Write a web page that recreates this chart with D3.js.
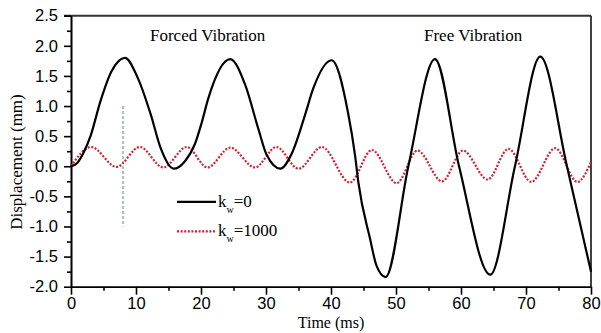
<!DOCTYPE html>
<meta charset="utf-8">
<style>
body { margin: 0; background: #fff; }
svg { font-family: "Liberation Serif", "Times New Roman", serif; }
.axis path, .axis line { stroke: #000; stroke-width: 1.6; }
.axis text { font-size: 16.5px; fill: #000; }
.label { font-size: 16.5px; fill: #000; }
.note { font-size: 17px; fill: #000; }
</style>
<svg width="601" height="333"></svg>
<script src="https://cdn.jsdelivr.net/npm/d3@7"></script>
<script>

// k_w = 0
var tBlack = [0, 1, 2, 3, 4.5, 6.2, 8.3, 10.3, 12.3, 13.8, 15.8, 17.5, 19.1, 20.1, 21.1, 24.5, 26.8, 28.8, 30.1, 32.2,
              34, 36, 37.3, 40.1, 42.6, 43.7, 44.2, 46, 47, 48.4, 51.9, 56.0, 59.7, 64.5, 68.3, 72.2, 76.3, 80];
var vBlack = [0, 0.06, 0.24, 0.5, 1.07, 1.57, 1.80, 1.46, 0.85, 0.30, -0.04, 0.08, 0.38, 0.72, 1.12, 1.78, 1.35, 0.63, 0.19, -0.04,
              0.22, 0.85, 1.3, 1.76, 0.9, 0.18, -0.26, -1.2, -1.65, -1.84, 0, 1.78, 0, -1.80, 0, 1.82, 0, -1.75];

// k_w = 1000
var tRed = [0, 3.1, 7.0, 10.6, 14.2, 17.8, 21.0, 24.5, 28.3, 31.6, 35.0, 38.6, 42.9, 46.3, 50.1, 53.3,
            57.1, 60.3, 64.1, 67.3, 70.8, 74.5, 77.9, 80];
var vRed = [0, 0.32, -0.01, 0.32, -0.02, 0.32, -0.02, 0.31, -0.02, 0.32, -0.04, 0.32, -0.27, 0.27, -0.28, 0.26,
            -0.25, 0.26, -0.22, 0.29, -0.26, 0.30, -0.26, 0.07];

var xTicks = [0, 10, 20, 30, 40, 50, 60, 70, 80];
var xMinor = [5, 15, 25, 35, 45, 55, 65, 75];
var yTicks = [-2.0, -1.5, -1.0, -0.5, 0.0, 0.5, 1.0, 1.5, 2.0, 2.5];
var yMinor = [-1.75, -1.25, -0.75, -0.25, 0.25, 0.75, 1.25, 1.75, 2.25];
var marker = [8, 1.0, -1.0]; // dashed guide at t = 8 ms

var svg = d3.select("svg");

var x = d3.scaleLinear().domain([0, 80]).range([71, 591]);
var y = d3.scaleLinear().domain([-2, 2.5]).range([286.7, 15.7]);

// box
svg.append("line")
    .attr("x1", x(0) - 7).attr("x2", x(80))
    .attr("y1", y(2.5)).attr("y2", y(2.5))
    .attr("stroke", "#333").attr("stroke-width", 2);
svg.append("line")
    .attr("x1", x(80)).attr("x2", x(80))
    .attr("y1", y(2.5)).attr("y2", y(-2))
    .attr("stroke", "#111").attr("stroke-width", 1.6);

var fmt = function(d) { return d.toFixed(1); };

svg.append("g")
    .attr("class", "axis")
    .attr("transform", "translate(" + x(0) + ",0)")
    .call(d3.axisLeft(y).tickValues(yTicks).tickFormat(fmt).tickSize(7).tickSizeOuter(0).tickPadding(6));
svg.append("g")
    .attr("class", "axis")
    .attr("transform", "translate(" + x(0) + ",0)")
    .call(d3.axisLeft(y).tickValues(yMinor).tickFormat("").tickSize(4).tickSizeOuter(0));

svg.append("g")
    .attr("class", "axis")
    .attr("transform", "translate(0," + y(-2) + ")")
    .call(d3.axisBottom(x).tickValues(xTicks).tickSize(8).tickSizeOuter(0).tickPadding(3));
svg.append("g")
    .attr("class", "axis")
    .attr("transform", "translate(0," + y(-2) + ")")
    .call(d3.axisBottom(x).tickValues(xMinor).tickFormat("").tickSize(4).tickSizeOuter(0));

// axis titles
svg.append("text")
    .attr("class", "label")
    .style("font-size", "16px")
    .attr("x", x(40)).attr("y", 328)
    .attr("text-anchor", "middle")
    .text("Time (ms)");
svg.append("text")
    .attr("class", "label")
    .style("font-size", "17px")
    .attr("transform", "translate(22,162) rotate(-90)")
    .attr("text-anchor", "middle")
    .text("Displacement (mm)");

// guide line
svg.append("line")
    .attr("x1", x(marker[0])).attr("x2", x(marker[0]))
    .attr("y1", y(marker[1])).attr("y2", y(marker[2]))
    .attr("stroke", "#7a9f86").attr("stroke-width", 1.2)
    .attr("stroke-dasharray", "3,2");

var line = d3.line()
    .x(function(d) { return x(d[0]); })
    .y(function(d) { return y(d[1]); })
    .curve(d3.curveMonotoneX);

svg.append("path")
    .datum(d3.zip(tRed, vRed))
    .attr("fill", "none")
    .attr("stroke", "#d0202e")
    .attr("stroke-width", 2.2)
    .attr("stroke-dasharray", "2,1.6")
    .attr("d", line);

svg.append("path")
    .datum(d3.zip(tBlack, vBlack))
    .attr("fill", "none")
    .attr("stroke", "#000")
    .attr("stroke-width", 2.2)
    .attr("d", line);

// annotations
svg.append("text").attr("class", "note")
    .attr("x", 150).attr("y", 41).text("Forced Vibration");
svg.append("text").attr("class", "note")
    .attr("x", 424).attr("y", 41).text("Free Vibration");

// legend
var legend = [
  {name: "=0", stroke: "#000", dash: null, yv: -0.59},
  {name: "=1000", stroke: "#d0202e", dash: "2,1.6", yv: -1.08}
];
var lg = svg.selectAll(".lg").data(legend).enter().append("g").attr("class", "lg");
lg.append("line")
    .attr("x1", 177).attr("x2", 216)
    .attr("y1", function(d) { return y(d.yv); })
    .attr("y2", function(d) { return y(d.yv); })
    .attr("stroke", function(d) { return d.stroke; })
    .attr("stroke-width", 2.2)
    .attr("stroke-dasharray", function(d) { return d.dash; });
var lt = lg.append("text").attr("class", "label")
    .style("font-size", "17px")
    .attr("x", 218)
    .attr("y", function(d) { return y(d.yv) + 5; });
lt.append("tspan").text("k");
lt.append("tspan").attr("dy", 6).style("font-size", "10px").text("w");
lt.append("tspan").attr("dy", -6).text(function(d) { return d.name; });

</script>
